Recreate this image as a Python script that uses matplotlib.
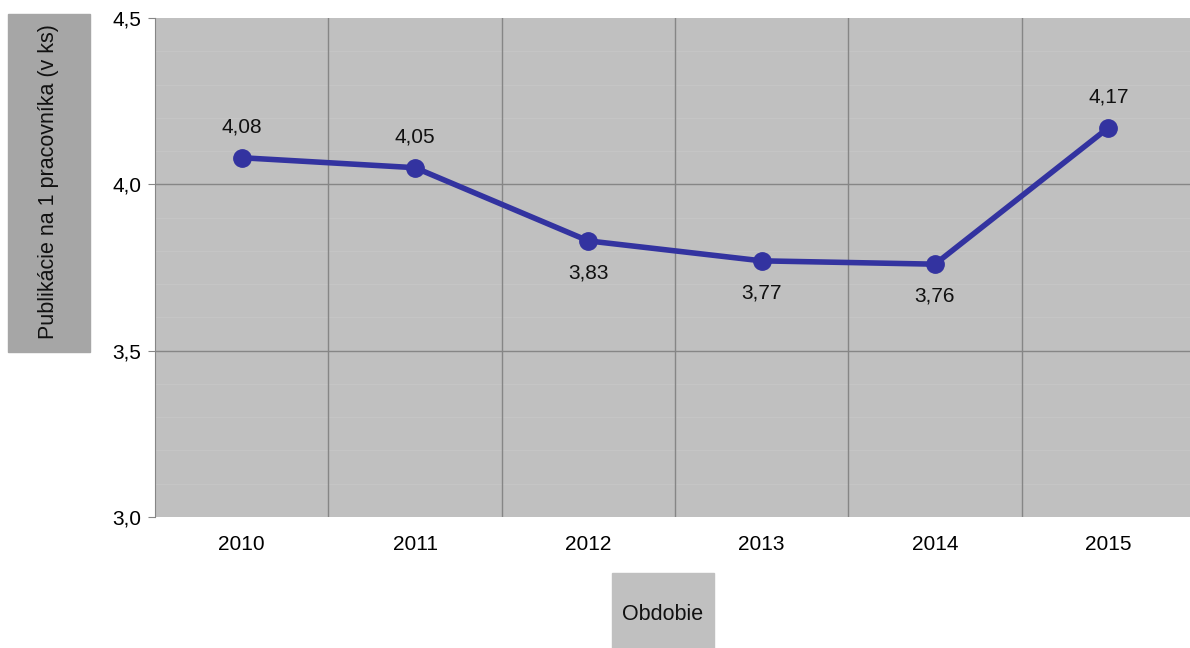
import numpy as np
import matplotlib.pyplot as plt
from matplotlib.patches import Rectangle

plt.rcParams['font.family'] = ['Liberation Sans', 'DejaVu Sans']

years = ['2010', '2011', '2012', '2013', '2014', '2015']
values = [4.08, 4.05, 3.83, 3.77, 3.76, 4.17]
labels = ['4,08', '4,05', '3,83', '3,77', '3,76', '4,17']
above = [True, True, False, False, False, True]
yticks = [3.0, 3.5, 4.0, 4.5]
ytick_labels = ['3,0', '3,5', '4,0', '4,5']

fig = plt.figure(figsize=(11.9, 6.48), dpi=100)
W, H = 1190.0, 648.0
ax = fig.add_axes([155 / W, 1 - 517 / H, 1040 / W, 499 / H])
ax.set_facecolor('#c0c0c0')

x = np.arange(len(years))
ax.set_xlim(-0.5, 5.5)
ax.set_ylim(3.0, 4.5)

# faint minor grid every 0.1
for yv in np.arange(3.1, 4.5, 0.1):
    ax.axhline(yv, color='#c5c5c5', lw=0.8, zorder=1)
for yv in [3.5, 4.0]:
    ax.axhline(yv, color='#868686', lw=1.0, zorder=1)
for xv in np.arange(0.5, 5.5, 1.0):
    ax.axvline(xv, color='#868686', lw=1.0, zorder=1)

ax.plot(x, values, color='#3333a0', lw=4, marker='o', ms=12.5, zorder=3)

for xi, v, lab, up in zip(x, values, labels, above):
    off = 31 if up else -32
    ax.annotate(lab, (xi, v), xytext=(0, off), textcoords='offset pixels',
                ha='center', va='center', fontsize=15, color='#111111')

ax.set_xticks(x)
ax.set_xticklabels(years, fontsize=15)
ax.set_yticks(yticks)
ax.set_yticklabels(ytick_labels, fontsize=15)
ax.tick_params(axis='x', length=0, pad=13)
ax.tick_params(axis='y', length=5, color='#868686', pad=5)

for s in ['top', 'right', 'bottom']:
    ax.spines[s].set_visible(False)
ax.spines['left'].set_color('#868686')

# axis title boxes
fig.patches.append(Rectangle((8 / W, 1 - 352 / H), 82 / W, 338 / H,
                             transform=fig.transFigure, color='#a6a6a6', zorder=0))
fig.text(49 / W, 1 - 182 / H, 'Publikácie na 1 pracovníka (v ks)', rotation=90,
         ha='center', va='center', fontsize=15.5, color='#111111')
fig.patches.append(Rectangle((612 / W, 0), 102 / W, 75 / H,
                             transform=fig.transFigure, color='#c0c0c0', zorder=0))
fig.text(663 / W, 1 - 614 / H, 'Obdobie', ha='center', va='center',
         fontsize=15.5, color='#111111')

fig.savefig('out.png', dpi=100)
